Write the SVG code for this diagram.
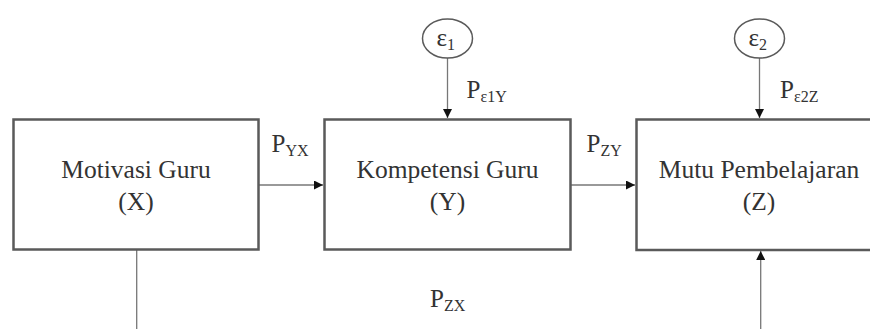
<svg xmlns="http://www.w3.org/2000/svg" width="870" height="329" viewBox="0 0 870 329" font-family="'Liberation Serif', 'DejaVu Serif', serif">
<style>
.box{fill:#fff;stroke:#5a5a5a;stroke-width:2.5}
.err{fill:#fff;stroke:#5a5a5a;stroke-width:1.5}
.con{fill:none;stroke:#777;stroke-width:1.3}
text{font-family:'Liberation Serif', 'DejaVu Serif', serif;fill:#333}
.lbl{font-size:25.5px;text-anchor:middle}
.p{font-size:25px}
.s{font-size:16px}
</style>
<defs>
<marker id="ah" viewBox="0 0 10 10" refX="10" refY="5" markerWidth="10" markerHeight="9" markerUnits="userSpaceOnUse" orient="auto">
<path d="M0,0 L10,5 L0,10 z" fill="#111"/>
</marker>
</defs>
<rect width="870" height="329" fill="#fff"/>
<g id="connectors">
<line class="con" x1="258" y1="185" x2="323" y2="185" marker-end="url(#ah)"/>
<line class="con" x1="571" y1="185" x2="635" y2="185" marker-end="url(#ah)"/>
<line class="con" x1="447.5" y1="58" x2="447.5" y2="118" marker-end="url(#ah)"/>
<line class="con" x1="759.5" y1="58" x2="759.5" y2="118" marker-end="url(#ah)"/>
<line class="con" x1="136.7" y1="250" x2="136.7" y2="329"/>
<line class="con" x1="760.7" y1="329" x2="760.7" y2="251" marker-end="url(#ah)"/>
<text class="p" x="271.5" y="152">P<tspan class="s" dy="4">YX</tspan></text>
<text class="p" x="586.5" y="152">P<tspan class="s" dy="4">ZY</tspan></text>
<text class="p" x="466.5" y="98">P<tspan class="s" dy="4">ε1Y</tspan></text>
<text class="p" x="780" y="98">P<tspan class="s" dy="4">ε2Z</tspan></text>
<text class="p" x="430" y="307">P<tspan class="s" dy="4">ZX</tspan></text>
</g>
<g id="nodeX">
<rect class="box" x="13.5" y="119.5" width="245" height="130"/>
<text class="lbl" x="136" y="178">Motivasi Guru</text>
<text class="lbl" x="136" y="210">(X)</text>
</g>
<g id="nodeY">
<rect class="box" x="324.5" y="119.5" width="246" height="130"/>
<text class="lbl" x="447.5" y="178">Kompetensi Guru</text>
<text class="lbl" x="447.5" y="210">(Y)</text>
</g>
<g id="nodeZ">
<rect class="box" x="636.5" y="119.5" width="246" height="130.5"/>
<text class="lbl" x="759" y="178">Mutu Pembelajaran</text>
<text class="lbl" x="759" y="210">(Z)</text>
</g>
<g id="e1">
<ellipse class="err" cx="447.5" cy="38.5" rx="25" ry="19.5"/>
<text class="p" x="436.5" y="46">ε<tspan class="s" dy="3.5">1</tspan></text>
</g>
<g id="e2">
<ellipse class="err" cx="759.5" cy="38.5" rx="25" ry="19.5"/>
<text class="p" x="748.5" y="46">ε<tspan class="s" dy="3.5">2</tspan></text>
</g>
</svg>
